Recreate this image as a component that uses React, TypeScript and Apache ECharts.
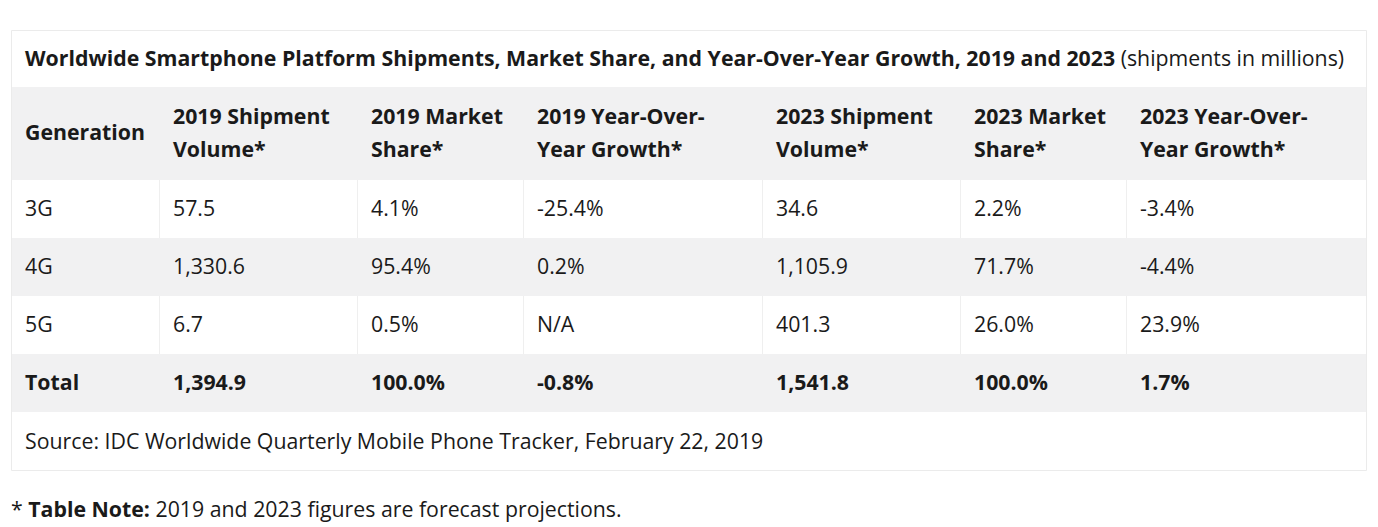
import React, { useEffect, useRef } from "react";
import * as echarts from "echarts";

const titleBold = "Worldwide Smartphone Platform Shipments, Market Share, and Year-Over-Year Growth, 2019 and 2023";
const titleNormal = "(shipments in millions)";
const headers = [
  ["Generation"],
  ["2019 Shipment", "Volume*"],
  ["2019 Market", "Share*"],
  ["2019 Year-Over-", "Year Growth*"],
  ["2023 Shipment", "Volume*"],
  ["2023 Market", "Share*"],
  ["2023 Year-Over-", "Year Growth*"],
];
const generations = ["3G", "4G", "5G"];
const ship2019 = ["57.5", "1,330.6", "6.7"];
const share2019 = ["4.1%", "95.4%", "0.5%"];
const growth2019 = ["-25.4%", "0.2%", "N/A"];
const ship2023 = ["34.6", "1,105.9", "401.3"];
const share2023 = ["2.2%", "71.7%", "26.0%"];
const growth2023 = ["-3.4%", "-4.4%", "23.9%"];
const totalRow = ["Total", "1,394.9", "100.0%", "-0.8%", "1,541.8", "100.0%", "1.7%"];
const sourceText = "Source: IDC Worldwide Quarterly Mobile Phone Tracker, February 22, 2019";
const noteLabel = "Table Note:";
const noteText = "2019 and 2023 figures are forecast projections.";

const colX = [11, 159, 357, 523, 762, 960, 1126, 1367];
const rowY = [30, 87, 180, 238, 296, 354, 412, 471];
const FONT = "'Open Sans', sans-serif";
const FS = 21.3;
const DY = -1.5;
const TXT = "#1a1a1a";
const GRAY = "#f1f1f2";
const BORDER = "#efefef";

export default function App() {
  const ref = useRef<HTMLDivElement>(null);
  useEffect(() => {
    document.body.style.margin = "0";
    const chart = echarts.init(ref.current!, null, { renderer: "svg" });
    const els: any[] = [];
    const rowBg = [null, GRAY, null, GRAY, null, GRAY, null];
    els.push({ type: "rect", shape: { x: colX[0] + 0.5, y: rowY[0] + 0.5, width: colX[7] - colX[0] - 1, height: rowY[7] - rowY[0] - 1 }, style: { fill: "#fff", stroke: "#ebebeb", lineWidth: 1 } });
    rowBg.forEach((c, i) => {
      if (c) els.push({ type: "rect", shape: { x: colX[0] + 1, y: rowY[i], width: colX[7] - colX[0] - 2, height: rowY[i + 1] - rowY[i] }, style: { fill: c } });
    });
    for (let r = 2; r <= 5; r++) {
      if (r % 2 !== 0) continue;
      for (let c = 1; c < 7; c++) {
        els.push({ type: "line", shape: { x1: colX[c] + 0.5, y1: rowY[r], x2: colX[c] + 0.5, y2: rowY[r + 1] }, style: { stroke: BORDER, lineWidth: 1 } });
      }
    }
    const font = (bold: boolean) => `${bold ? "bold " : ""}${FS}px ${FONT}`;
    els.push({
      type: "text", x: 25, y: (rowY[0] + rowY[1]) / 2 + DY,
      style: {
        text: `{b|${titleBold}}{n| ${titleNormal}}`, verticalAlign: "middle",
        rich: {
          b: { fontFamily: FONT, fontSize: FS, fontWeight: "bold", fill: TXT },
          n: { fontFamily: FONT, fontSize: FS, fontWeight: "normal", fill: TXT },
        },
      },
    });
    headers.forEach((h, c) => {
      const cy = (rowY[1] + rowY[2]) / 2 + DY;
      if (h.length === 1) {
        els.push({ type: "text", x: colX[c] + 14, y: cy - 0.5, style: { text: h[0], font: font(true), fill: TXT, verticalAlign: "middle" } });
      } else {
        els.push({ type: "text", x: colX[c] + 14, y: cy - 16.5, style: { text: h[0], font: font(true), fill: TXT, verticalAlign: "middle" } });
        els.push({ type: "text", x: colX[c] + 14, y: cy + 16.5, style: { text: h[1], font: font(true), fill: TXT, verticalAlign: "middle" } });
      }
    });
    const cols = [generations, ship2019, share2019, growth2019, ship2023, share2023, growth2023];
    generations.forEach((_, r) => {
      const cy = (rowY[2 + r] + rowY[3 + r]) / 2 + DY;
      cols.forEach((col, c) => {
        els.push({ type: "text", x: colX[c] + 14, y: cy, style: { text: col[r], font: font(false), fill: TXT, verticalAlign: "middle" } });
      });
    });
    totalRow.forEach((t, c) => {
      const cy = (rowY[5] + rowY[6]) / 2 + DY;
      els.push({ type: "text", x: colX[c] + 14, y: cy, style: { text: t, font: font(true), fill: TXT, verticalAlign: "middle" } });
    });
    els.push({ type: "text", x: 25, y: (rowY[6] + rowY[7]) / 2 + DY, style: { text: sourceText, font: font(false), fill: TXT, verticalAlign: "middle" } });
    els.push({
      type: "text", x: 11, y: 510 + DY,
      style: {
        text: `{n|* }{b|${noteLabel}}{n| ${noteText}}`, verticalAlign: "middle",
        rich: {
          b: { fontFamily: FONT, fontSize: FS, fontWeight: "bold", fill: TXT },
          n: { fontFamily: FONT, fontSize: FS, fontWeight: "normal", fill: TXT },
        },
      },
    });
    chart.setOption({ animation: false, graphic: { elements: els } });
    return () => chart.dispose();
  }, []);
  return <div ref={ref} style={{ width: 1378, height: 527, background: "#fff" }} />;
}
